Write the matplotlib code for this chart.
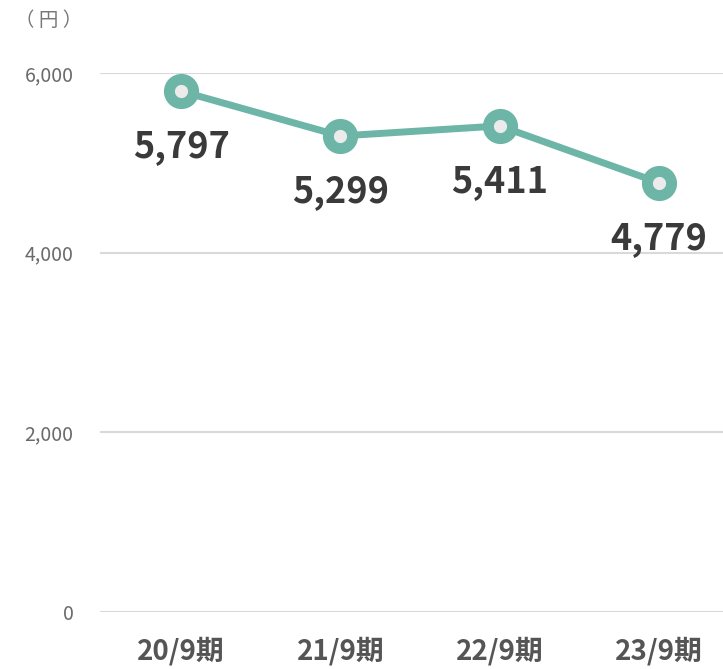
import matplotlib
matplotlib.use("Agg")
import matplotlib.pyplot as plt

plt.rcParams['font.family'] = ['Noto Sans CJK JP', 'DejaVu Sans']

# data
periods = ['20/9期', '21/9期', '22/9期', '23/9期']
values = [5797, 5299, 5411, 4779]
y_ticks = [0, 2000, 4000, 6000]

line_color = '#6db5a7'
fig = plt.figure(figsize=(7.23, 6.69), dpi=100)
ax = fig.add_axes([100 / 723, 57 / 669, 637 / 723, 539 / 669])

x = list(range(len(periods)))
ax.plot(x, values, color=line_color, lw=5, marker='o', ms=17.4, mew=7.9,
        mec=line_color, mfc='#ebebeb', zorder=3, clip_on=False)

for xi, v in zip(x, values):
    ax.annotate(f"{v:,}", (xi, v), xytext=(0, -40), textcoords='offset points',
                ha='center', va='center', fontsize=26, fontweight='bold',
                color='#3a3a3a')

ax.set_xlim(-0.51, 3.49)
ax.set_ylim(0, 6000)
ax.set_yticks(y_ticks)
ax.set_yticklabels([f"{t:,}" for t in y_ticks])
ax.set_xticks(x)
ax.set_xticklabels(periods)

for s in ax.spines.values():
    s.set_visible(False)
ax.grid(axis='y', color='#d9d9d9', lw=1.5)
ax.set_axisbelow(True)
ax.tick_params(axis='both', length=0)
ax.tick_params(axis='y', pad=19, labelsize=14, labelcolor='#6a6a6a')
ax.tick_params(axis='x', pad=18, labelsize=20, labelcolor='#555555')
for lbl in ax.get_xticklabels():
    lbl.set_fontweight('bold')

fig.text(49 / 723, 1 - 20 / 669, '（ 円 ）', ha='center', va='center',
         fontsize=14, color='#777777')

fig.savefig('out.png', dpi=100)
